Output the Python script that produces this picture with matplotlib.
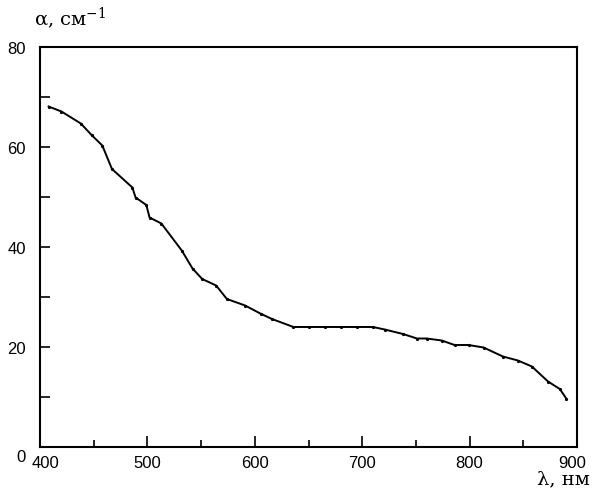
import numpy as np
import matplotlib.pyplot as plt
import matplotlib.transforms as mtransforms
from matplotlib.ticker import MultipleLocator

# absorption spectrum
wavelength = [408, 420, 438, 448, 458, 467, 486, 489, 499, 502, 513, 532, 542, 551,
              564, 574, 591, 606, 616, 636, 650, 665, 680, 695, 710, 721, 738, 751,
              760, 774, 786, 799, 813, 831, 845, 858, 873, 884, 890]
alpha = [68.1, 67.1, 64.7, 62.4, 60.3, 55.6, 51.9, 49.9, 48.4, 45.9, 44.7, 39.3, 35.7, 33.6,
         32.3, 29.6, 28.3, 26.6, 25.6, 24.0, 24.0, 24.0, 24.0, 24.0, 24.0, 23.5, 22.6, 21.7,
         21.7, 21.3, 20.4, 20.4, 19.9, 18.1, 17.3, 16.1, 13.1, 11.6, 9.7]

xticks = [400, 500, 600, 700, 800, 900]
yticks = [0, 20, 40, 60, 80]

plt.rcParams['mathtext.fontset'] = 'dejavuserif'

fig = plt.figure(figsize=(5.93, 4.89), dpi=100)
ax = fig.add_axes([40/593, 41/489, 537/593, 400/489])

ax.plot(wavelength, alpha, color="black", lw=1.4, marker='o', ms=1.3)

ax.set_xlim(400, 900)
ax.set_ylim(0, 80)
ax.set_xticks(xticks)
ax.set_yticks(yticks)
ax.xaxis.set_minor_locator(MultipleLocator(50))
ax.yaxis.set_minor_locator(MultipleLocator(10))
ax.tick_params(axis='both', which='both', direction='in', top=False, right=False,
               labelsize=12, width=1.2, labelfontfamily='Liberation Sans')
ax.tick_params(axis='x', which='major', length=8, pad=6)
ax.tick_params(axis='x', which='minor', length=5)
ax.tick_params(axis='y', which='both', length=7, pad=10)

# edge labels sit a little inward / lower, as in the original
ylab = ax.get_yticklabels()
ylab[0].set_transform(ylab[0].get_transform() + mtransforms.ScaledTranslation(0, -8/100, fig.dpi_scale_trans))
xlab = ax.get_xticklabels()
xlab[0].set_transform(xlab[0].get_transform() + mtransforms.ScaledTranslation(6/100, 0, fig.dpi_scale_trans))
xlab[-1].set_transform(xlab[-1].get_transform() + mtransforms.ScaledTranslation(-5/100, 0, fig.dpi_scale_trans))
for s in ax.spines.values():
    s.set_linewidth(1.5)

fig.text(34/593, 1 - 18/489, r"α, см$^{-1}$", fontsize=14, family='DejaVu Serif',
         va='center', ha='left')
fig.text(590/593, 1/489, "λ, нм", fontsize=14, family='DejaVu Serif',
         va='bottom', ha='right')

plt.savefig("out.png", dpi=100)
